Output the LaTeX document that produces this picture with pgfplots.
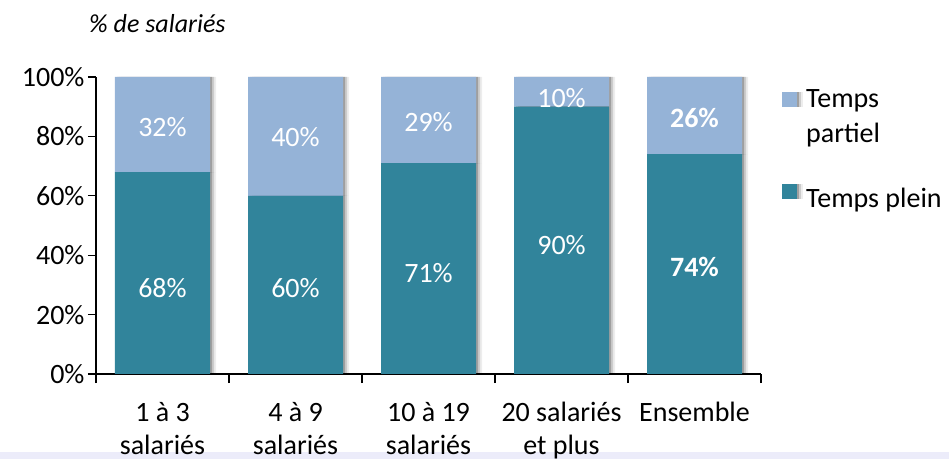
\documentclass[border=0pt]{standalone}
\usepackage{fontspec}
\setmainfont{Carlito}
\usepackage{pgfplots}
\pgfplotsset{compat=1.18}
\usetikzlibrary{shadows}
\definecolor{plein}{RGB}{49,132,155}
\definecolor{partiel}{RGB}{149,179,215}
\definecolor{strip}{RGB}{236,236,250}
\newcommand\bigf{\fontsize{28bp}{33bp}\selectfont}
\begin{document}
\begin{tikzpicture}
\useasboundingbox (0,0) rectangle (949bp,459bp);
\fill[strip] (0,0) rectangle (949bp,7bp);
\node[font=\fontsize{26bp}{30bp}\selectfont\itshape, anchor=west, inner sep=0pt] at (89bp,435bp) {\% de salariés};
\begin{axis}[
  at={(96bp,85bp)}, anchor=south west,
  scale only axis, width=665bp, height=297bp,
  ybar stacked, bar width=95bp,
  xmin=-0.5, xmax=4.5, ymin=0, ymax=100,
  axis x line*=bottom, axis y line*=left,
  axis line style={-, line width=1.2bp, black},
  tick align=outside,
  xtick={0,...,4},
  xticklabels={{1 à 3\\salariés},{4 à 9\\salariés},{10 à 19\\salariés},{20 salariés\\et plus},{Ensemble}},
  minor xtick={-0.5,0.5,...,4.5},
  major tick length=8bp, minor tick length=9bp,
  tick style={black, line width=1.2bp},
  major x tick style={draw=none},
  ytick={0,20,...,100},
  yticklabel={\pgfmathprintnumber{\tick}\%},
  /pgf/number format/assume math mode=true,
  tick label style={font=\bigf, text=black},
  xticklabel style={align=center, yshift=-17bp},
  reverse legend,
  legend cell align=left,
  legend style={at={(1,1)}, anchor=north west, xshift=21bp, yshift=-12bp,
    draw=none, fill=none, inner sep=0pt, font=\fontsize{28bp}{35bp}\selectfont, row sep=40bp,
    nodes={inner sep=0pt, align=left}},
]
\addplot[fill=plein, draw=none,
  drop shadow={shadow xshift=2bp, shadow yshift=0bp, opacity=0.22, fill=black},
  drop shadow={shadow xshift=4bp, shadow yshift=0bp, opacity=0.14, fill=black},
  drop shadow={shadow xshift=6bp, shadow yshift=0bp, opacity=0.07, fill=black},
  legend image code/.code={\fill[plein] (0bp,0bp) rectangle (15bp,15bp);\path (24bp,0bp);}]
  coordinates {(0,68) (1,60) (2,71) (3,90) (4,74)};
\addlegendentry{Temps plein}
\addplot[fill=partiel, draw=none,
  drop shadow={shadow xshift=2bp, shadow yshift=0bp, opacity=0.22, fill=black},
  drop shadow={shadow xshift=4bp, shadow yshift=0bp, opacity=0.14, fill=black},
  drop shadow={shadow xshift=6bp, shadow yshift=0bp, opacity=0.07, fill=black},
  legend image code/.code={\fill[partiel] (0bp,9bp) rectangle (15bp,24bp);\path (24bp,9bp);}]
  coordinates {(0,32) (1,40) (2,29) (3,10) (4,26)};
\addlegendentry{Temps\\partiel}
\end{axis}
\begin{axis}[
  at={(96bp,85bp)}, anchor=south west,
  scale only axis, width=665bp, height=297bp,
  xmin=-0.5, xmax=4.5, ymin=0, ymax=100,
  hide axis, clip=false,
]
\addplot[draw=none, mark=none, nodes near coords={\pgfplotspointmeta},
  point meta=explicit symbolic,
  nodes near coords style={anchor=center, text=white, font=\bigf, inner sep=0pt}]
  coordinates {(0,83.2)[32\%] (1,79.8)[40\%] (2,84.8)[29\%] (3,92.9)[10\%]
               (0,29.0)[68\%] (1,29.0)[60\%] (2,34.0)[71\%] (3,43.4)[90\%]};
\addplot[draw=none, mark=none, nodes near coords={\pgfplotspointmeta},
  point meta=explicit symbolic,
  nodes near coords style={anchor=center, text=white, font=\bigf\bfseries, inner sep=0pt}]
  coordinates {(4,86.2)[26\%] (4,36.0)[74\%]};
\end{axis}
\end{tikzpicture}
\end{document}
